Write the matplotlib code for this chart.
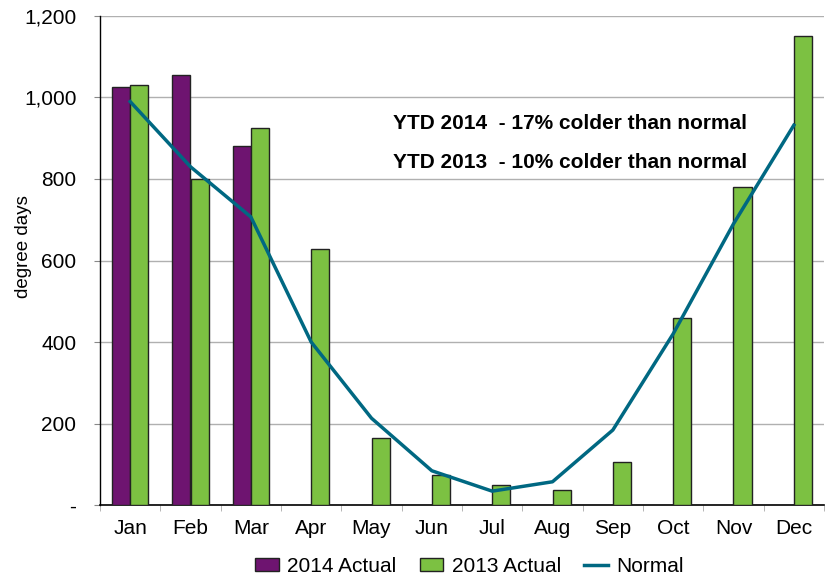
import matplotlib
matplotlib.use("Agg")
import matplotlib.pyplot as plt
import numpy as np
from matplotlib.ticker import FuncFormatter, FixedLocator

months = ["Jan", "Feb", "Mar", "Apr", "May", "Jun", "Jul", "Aug", "Sep", "Oct", "Nov", "Dec"]
actual_2014 = [1025, 1056, 881, 0, 0, 0, 0, 0, 0, 0, 0, 0]
actual_2013 = [1030, 800, 924, 628, 164, 74, 48, 38, 105, 459, 780, 1151]
normal = [990, 830, 707, 400, 213, 84, 34, 57, 184, 420, 690, 932]
yticks = [0, 200, 400, 600, 800, 1000, 1200]

plt.rcParams['font.family'] = ['Liberation Sans', 'DejaVu Sans']

fig = plt.figure(figsize=(8.25, 5.78), dpi=100)
ax = fig.add_axes([100/825, 1-505/578, 724/825, 489/578])

x = np.arange(len(months))
w = 0.3
purple = "#6E1470"
green = "#7CC142"
teal = "#006882"

b1 = ax.bar(x[:3] - w/2, actual_2014[:3], width=w, color=purple, edgecolor="#222222", linewidth=1.0, label="2014 Actual", zorder=3)
b2 = ax.bar(x + w/2, actual_2013, width=w, color=green, edgecolor="#222222", linewidth=1.0, label="2013 Actual", zorder=3)
l1, = ax.plot(x, normal, color=teal, linewidth=2.5, label="Normal", zorder=4)

ax.set_xlim(-0.5, 11.5)
ax.set_ylim(0, 1200)
ax.yaxis.set_major_locator(FixedLocator(yticks))
ax.yaxis.set_major_formatter(FuncFormatter(lambda v, p: "-" if v == 0 else f"{int(v):,}"))
ax.set_xticks(x)
ax.set_xticklabels(months)
ax.set_xticks(np.arange(-0.5, 12, 1), minor=True)
ax.tick_params(axis='x', which='major', length=0, labelsize=15, pad=10)
ax.tick_params(axis='x', which='minor', length=4, color="#aaaaaa", direction='out')
ax.tick_params(axis='y', which='major', length=4, color="#888888", labelsize=15, pad=13)

ax.grid(axis='y', color="#b0b0b0", linewidth=1.0, zorder=0)
ax.set_axisbelow(True)
for s in ["top", "right"]:
    ax.spines[s].set_visible(False)
ax.spines["left"].set_color("black")
ax.spines["bottom"].set_color("black")
ax.spines["left"].set_linewidth(1.0)
ax.spines["bottom"].set_linewidth(1.2)

ax.set_ylabel("degree days", fontsize=13.5)
ax.yaxis.set_label_coords((32-100)/724, 0.528)

ax.text(0.405, 0.781, "YTD 2014  - 17% colder than normal", transform=ax.transAxes,
        fontsize=15, fontweight='bold', va='center', ha='left')
ax.text(0.405, 0.701, "YTD 2013  - 10% colder than normal", transform=ax.transAxes,
        fontsize=15, fontweight='bold', va='center', ha='left')

fig.legend(handles=[b1, b2, l1], labels=["2014 Actual", "2013 Actual", "Normal"],
           loc='center', bbox_to_anchor=(0.569, 1-566/578), ncol=3, frameon=False,
           fontsize=15, handlelength=1.15, handleheight=0.6, columnspacing=1.1, handletextpad=0.4)

fig.savefig("out.png", dpi=100)
